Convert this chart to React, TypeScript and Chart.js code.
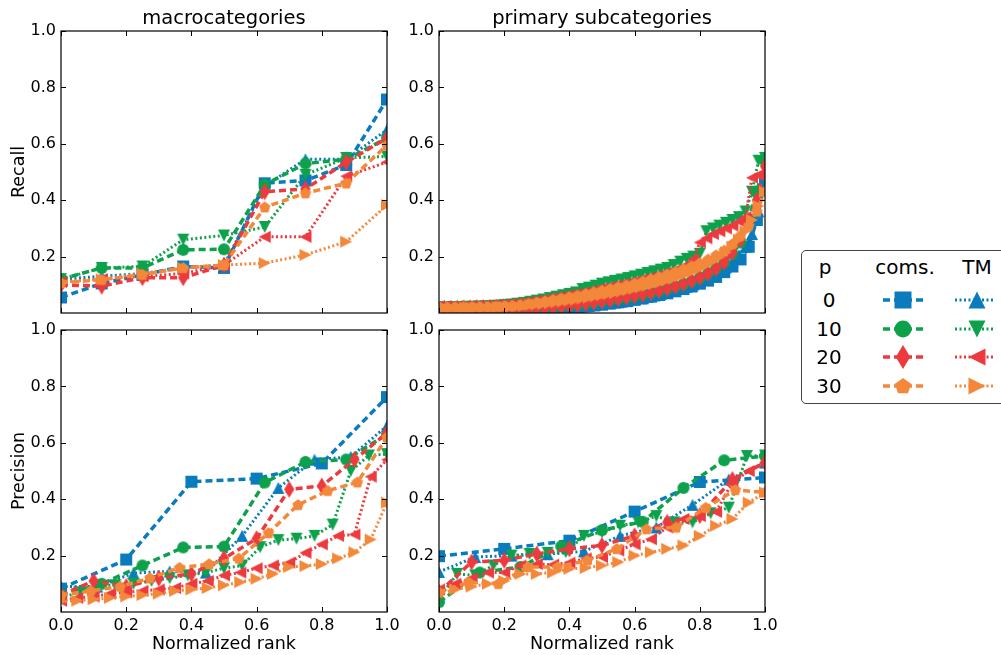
import React, { useEffect, useRef } from 'react';
import { Chart, registerables } from 'chart.js';

Chart.register(...registerables);

const FONT = '"DejaVu Sans", "Liberation Sans", sans-serif';

// ---------- labels ----------
const pLabels = ['0', '10', '20', '30'];
const methodLabels = ['coms.', 'TM'];
const panelTitles = ['macrocategories', 'primary subcategories'];
const rowTitles = ['Recall', 'Precision'];
const xAxisLabel = 'Normalized rank';
const xTickValues = [0, 0.2, 0.4, 0.6, 0.8, 1.0];
const yTickValues = [0.2, 0.4, 0.6, 0.8, 1.0];

const seriesColors = ['#0a7bbd', '#0da14b', '#ec3a3f', '#f3883a'];
const comsMarkers = ['square', 'circle', 'thinDiamond', 'pentagon'];
const tmMarkers = ['triUp', 'triDown', 'triLeft', 'triRight'];

// ---------- Recall, macrocategories ----------
const recallMacroComs0 = [0.055, 0.105, 0.135, 0.165, 0.16, 0.46, 0.47, 0.525, 0.757];
const recallMacroComs10 = [0.12, 0.16, 0.16, 0.224, 0.226, 0.455, 0.53, 0.545, 0.62];
const recallMacroComs20 = [0.10, 0.095, 0.125, 0.125, 0.17, 0.43, 0.44, 0.535, 0.62];
const recallMacroComs30 = [0.107, 0.118, 0.136, 0.16, 0.17, 0.375, 0.425, 0.46, 0.595];
const recallMacroTM0 = [0.12, 0.13, 0.14, 0.16, 0.17, 0.45, 0.545, 0.545, 0.65];
const recallMacroTM10 = [0.12, 0.16, 0.165, 0.26, 0.275, 0.305, 0.49, 0.55, 0.555];
const recallMacroTM20 = [0.11, 0.12, 0.13, 0.14, 0.17, 0.27, 0.27, 0.485, 0.535];
const recallMacroTM30 = [0.11, 0.12, 0.14, 0.16, 0.17, 0.177, 0.206, 0.253, 0.383];

// ---------- Recall, primary subcategories ----------
const recallSubComs0 = [0.000, 0.000, 0.000, 0.001, 0.002, 0.003, 0.004, 0.005, 0.006, 0.007, 0.008, 0.009, 0.010, 0.012, 0.014, 0.016, 0.018, 0.021, 0.024, 0.027, 0.030, 0.034, 0.038, 0.042, 0.047, 0.052, 0.058, 0.064, 0.070, 0.077, 0.085, 0.094, 0.104, 0.115, 0.128, 0.145, 0.165, 0.190, 0.235, 0.330, 0.470];
const recallSubComs10 = [0.005, 0.005, 0.006, 0.007, 0.008, 0.009, 0.010, 0.011, 0.012, 0.013, 0.014, 0.016, 0.018, 0.020, 0.022, 0.025, 0.028, 0.031, 0.034, 0.038, 0.042, 0.046, 0.050, 0.055, 0.060, 0.066, 0.072, 0.079, 0.086, 0.094, 0.103, 0.113, 0.125, 0.140, 0.158, 0.180, 0.210, 0.250, 0.330, 0.430, 0.540];
const recallSubComs20 = [0.004, 0.004, 0.005, 0.006, 0.007, 0.008, 0.009, 0.010, 0.011, 0.012, 0.013, 0.015, 0.017, 0.019, 0.021, 0.024, 0.027, 0.030, 0.034, 0.038, 0.042, 0.046, 0.051, 0.056, 0.061, 0.067, 0.073, 0.080, 0.087, 0.095, 0.104, 0.114, 0.126, 0.140, 0.158, 0.180, 0.215, 0.260, 0.320, 0.400, 0.520];
const recallSubComs30 = [0.020, 0.020, 0.020, 0.021, 0.021, 0.022, 0.022, 0.023, 0.024, 0.026, 0.029, 0.033, 0.038, 0.042, 0.047, 0.052, 0.057, 0.062, 0.068, 0.074, 0.080, 0.086, 0.092, 0.098, 0.105, 0.112, 0.120, 0.128, 0.137, 0.146, 0.156, 0.166, 0.177, 0.190, 0.205, 0.222, 0.245, 0.275, 0.310, 0.360, 0.430];
const recallSubTM0 = [0.000, 0.000, 0.000, 0.001, 0.001, 0.002, 0.003, 0.003, 0.004, 0.005, 0.006, 0.007, 0.008, 0.009, 0.010, 0.011, 0.012, 0.014, 0.015, 0.017, 0.019, 0.021, 0.023, 0.025, 0.028, 0.031, 0.034, 0.037, 0.040, 0.044, 0.048, 0.052, 0.057, 0.062, 0.067, 0.073, 0.079, 0.086, 0.093, 0.101, 0.110, 0.120, 0.132, 0.146, 0.162, 0.182, 0.205, 0.235, 0.280, 0.360, 0.490];
const recallSubTM10 = [0.020, 0.020, 0.021, 0.021, 0.022, 0.022, 0.023, 0.024, 0.025, 0.026, 0.028, 0.030, 0.033, 0.036, 0.040, 0.044, 0.048, 0.053, 0.058, 0.063, 0.068, 0.073, 0.085, 0.090, 0.097, 0.104, 0.109, 0.114, 0.119, 0.124, 0.130, 0.136, 0.142, 0.148, 0.154, 0.160, 0.170, 0.182, 0.192, 0.200, 0.210, 0.290, 0.300, 0.310, 0.320, 0.330, 0.340, 0.360, 0.430, 0.540, 0.550];
const recallSubTM20 = [0.025, 0.025, 0.025, 0.026, 0.026, 0.027, 0.027, 0.028, 0.029, 0.030, 0.031, 0.033, 0.035, 0.038, 0.041, 0.044, 0.048, 0.052, 0.056, 0.060, 0.064, 0.068, 0.072, 0.077, 0.082, 0.087, 0.092, 0.097, 0.102, 0.107, 0.112, 0.118, 0.124, 0.130, 0.136, 0.143, 0.150, 0.158, 0.170, 0.190, 0.250, 0.265, 0.280, 0.290, 0.300, 0.310, 0.325, 0.340, 0.480, 0.490, 0.500];
const recallSubTM30 = [0.018, 0.018, 0.018, 0.019, 0.019, 0.019, 0.020, 0.020, 0.021, 0.021, 0.022, 0.023, 0.024, 0.026, 0.028, 0.030, 0.032, 0.035, 0.038, 0.041, 0.044, 0.047, 0.051, 0.055, 0.059, 0.063, 0.067, 0.071, 0.076, 0.081, 0.086, 0.091, 0.097, 0.103, 0.109, 0.116, 0.123, 0.131, 0.139, 0.148, 0.158, 0.170, 0.183, 0.198, 0.215, 0.235, 0.260, 0.290, 0.330, 0.380, 0.430];

// ---------- Precision, macrocategories ----------
const precMacroComs0 = [0.083, 0.186, 0.462, 0.473, 0.527, 0.762];
const precMacroComs10 = [0.06, 0.10, 0.165, 0.229, 0.232, 0.459, 0.532, 0.541, 0.63];
const precMacroComs20 = [0.06, 0.11, 0.09, 0.12, 0.135, 0.19, 0.26, 0.435, 0.447, 0.54, 0.635];
const precMacroComs30 = [0.06, 0.075, 0.09, 0.12, 0.157, 0.17, 0.19, 0.28, 0.38, 0.43, 0.46, 0.62];
const precMacroTM0 = [0.09, 0.09, 0.138, 0.144, 0.14, 0.27, 0.44, 0.54, 0.55, 0.66];
const precMacroTM10 = [0.05, 0.07, 0.095, 0.095, 0.10, 0.11, 0.12, 0.13, 0.14, 0.155, 0.165, 0.23, 0.255, 0.26, 0.27, 0.31, 0.50, 0.555, 0.56];
const precMacroTM20 = [0.04, 0.05, 0.055, 0.065, 0.07, 0.075, 0.08, 0.085, 0.10, 0.11, 0.13, 0.14, 0.155, 0.165, 0.175, 0.21, 0.24, 0.27, 0.275, 0.48, 0.54];
const precMacroTM30 = [0.038, 0.04, 0.045, 0.05, 0.055, 0.06, 0.065, 0.075, 0.08, 0.085, 0.095, 0.106, 0.118, 0.135, 0.16, 0.163, 0.17, 0.19, 0.212, 0.257, 0.388];

// ---------- Precision, primary subcategories ----------
const precSubComs0 = [0.198, 0.224, 0.253, 0.356, 0.461, 0.477];
const precSubComs10 = [0.035, 0.14, 0.16, 0.233, 0.29, 0.32, 0.44, 0.538, 0.553];
const precSubComs20 = [0.07, 0.177, 0.183, 0.206, 0.224, 0.236, 0.27, 0.318, 0.342, 0.47, 0.53];
const precSubComs30 = [0.07, 0.105, 0.10, 0.16, 0.16, 0.183, 0.224, 0.294, 0.30, 0.37, 0.433, 0.424];
const precSubTM0 = [0.142, 0.195, 0.20, 0.205, 0.215, 0.27, 0.30, 0.38, 0.47, 0.53];
const precSubTM10 = [0.05, 0.135, 0.13, 0.165, 0.20, 0.206, 0.21, 0.212, 0.27, 0.283, 0.306, 0.318, 0.34, 0.318, 0.318, 0.35, 0.37, 0.553, 0.555];
const precSubTM20 = [0.08, 0.10, 0.12, 0.14, 0.14, 0.165, 0.17, 0.168, 0.175, 0.19, 0.195, 0.218, 0.24, 0.258, 0.30, 0.33, 0.34, 0.355, 0.46, 0.50, 0.53];
const precSubTM30 = [0.065, 0.08, 0.09, 0.10, 0.11, 0.135, 0.135, 0.14, 0.153, 0.156, 0.165, 0.177, 0.20, 0.212, 0.224, 0.236, 0.27, 0.306, 0.33, 0.388, 0.424];

// ---------- marker drawing ----------
function traceMarker(ctx: CanvasRenderingContext2D, shape: string, cx: number, cy: number, ms: number) {
  const h = ms / 2;
  ctx.beginPath();
  switch (shape) {
    case 'square':
      ctx.rect(cx - h, cy - h, ms, ms);
      break;
    case 'circle':
      ctx.arc(cx, cy, h, 0, Math.PI * 2);
      break;
    case 'thinDiamond': {
      const w = 0.6 * h * Math.SQRT2;
      const t = h * Math.SQRT2;
      ctx.moveTo(cx, cy - t);
      ctx.lineTo(cx + w, cy);
      ctx.lineTo(cx, cy + t);
      ctx.lineTo(cx - w, cy);
      ctx.closePath();
      break;
    }
    case 'pentagon': {
      for (let k = 0; k < 5; k++) {
        const a = (-90 + 72 * k) * Math.PI / 180;
        const px = cx + h * Math.cos(a);
        const py = cy + h * Math.sin(a) + h * 0.05;
        if (k === 0) ctx.moveTo(px, py); else ctx.lineTo(px, py);
      }
      ctx.closePath();
      break;
    }
    case 'triUp':
      ctx.moveTo(cx, cy - h); ctx.lineTo(cx + h, cy + h); ctx.lineTo(cx - h, cy + h); ctx.closePath();
      break;
    case 'triDown':
      ctx.moveTo(cx, cy + h); ctx.lineTo(cx + h, cy - h); ctx.lineTo(cx - h, cy - h); ctx.closePath();
      break;
    case 'triLeft':
      ctx.moveTo(cx - h, cy); ctx.lineTo(cx + h, cy - h); ctx.lineTo(cx + h, cy + h); ctx.closePath();
      break;
    case 'triRight':
      ctx.moveTo(cx + h, cy); ctx.lineTo(cx - h, cy - h); ctx.lineTo(cx - h, cy + h); ctx.closePath();
      break;
  }
}

function makeMarker(shape: string, color: string, ms: number): HTMLCanvasElement {
  const size = Math.ceil(ms * 1.5) + 2;
  const c = document.createElement('canvas');
  c.width = size;
  c.height = size;
  const ctx = c.getContext('2d')!;
  ctx.fillStyle = color;
  traceMarker(ctx, shape, size / 2, size / 2, ms);
  ctx.fill();
  return c;
}

// ---------- frame & inward ticks (uses chart scales) ----------
const frameTicksPlugin = {
  id: 'frameTicks',
  afterDatasetsDraw(chart: any) {
    const { ctx, chartArea: a } = chart;
    const xs = chart.scales.x;
    const ys = chart.scales.y;
    ctx.save();
    ctx.strokeStyle = '#000';
    ctx.lineWidth = 1.2;
    ctx.strokeRect(a.left, a.top, a.right - a.left, a.bottom - a.top);
    ctx.lineWidth = 1;
    const tl = 5;
    ctx.beginPath();
    xTickValues.forEach((v) => {
      const px = Math.round(xs.getPixelForValue(v)) + 0.5;
      ctx.moveTo(px, a.bottom); ctx.lineTo(px, a.bottom - tl);
      ctx.moveTo(px, a.top); ctx.lineTo(px, a.top + tl);
    });
    yTickValues.forEach((v) => {
      const py = Math.round(ys.getPixelForValue(v)) + 0.5;
      ctx.moveTo(a.left, py); ctx.lineTo(a.left + tl, py);
      ctx.moveTo(a.right, py); ctx.lineTo(a.right - tl, py);
    });
    ctx.stroke();
    ctx.restore();
  },
};

type PanelSpec = {
  left: number; top: number; w: number; h: number;
  yAxisW: number; xAxisH: number;
  padRight: number; padTop: number; padBottom: number;
  title?: string; yTitle?: string; showX: boolean;
  coms: number[][]; tm: number[][];
};

function makeDataset(values: number[], k: number, kind: 'coms' | 'tm') {
  const n = values.length;
  const color = seriesColors[k];
  return {
    label: `${kind} ${pLabels[k]}`,
    data: values.map((v, i) => ({ x: i / (n - 1), y: v })),
    showLine: true,
    borderColor: color,
    backgroundColor: color,
    borderWidth: kind === 'coms' ? 3.5 : 3,
    borderDash: kind === 'coms' ? [7, 4] : [2, 2.5],
    pointStyle: makeMarker(kind === 'coms' ? comsMarkers[k] : tmMarkers[k], color, 12),
    pointRadius: 6,
    pointHoverRadius: 6,
    clip: 0,
    tension: 0,
  };
}

function buildConfig(spec: PanelSpec): any {
  const datasets: any[] = [];
  for (let k = 0; k < 4; k++) {
    datasets.push(makeDataset(spec.coms[k], k, 'coms'));
    datasets.push(makeDataset(spec.tm[k], k, 'tm'));
  }
  datasets.reverse();
  return {
    type: 'scatter',
    data: { datasets },
    options: {
      animation: false,
      responsive: false,
      devicePixelRatio: 1,
      events: [],
      layout: {
        autoPadding: false,
        padding: { left: 0, right: spec.padRight, top: spec.padTop, bottom: spec.padBottom },
      },
      plugins: {
        legend: { display: false },
        tooltip: { enabled: false },
        title: {
          display: !!spec.title,
          text: spec.title || '',
          fullSize: false,
          color: '#000',
          font: { family: FONT, size: 19.5, weight: 'normal', lineHeight: 1.2 },
          padding: { top: 7.6, bottom: 0 },
        },
      },
      scales: {
        x: {
          type: 'linear',
          min: 0,
          max: 1,
          grid: { display: false, drawTicks: false },
          border: { display: false },
          afterBuildTicks: (s: any) => { s.ticks = xTickValues.map((v) => ({ value: v })); },
          ticks: {
            display: spec.showX,
            color: '#000',
            padding: 4,
            maxRotation: 0,
            autoSkip: false,
            font: { family: FONT, size: 16 },
            callback: (v: any) => Number(v).toFixed(1),
          },
          title: {
            display: spec.showX,
            text: xAxisLabel,
            color: '#000',
            font: { family: FONT, size: 17.5, lineHeight: 1.2 },
            padding: { top: 0, bottom: 0.5 },
          },
          afterFit: (s: any) => {
            s.height = spec.xAxisH;
            s.paddingLeft = 0;
            s.paddingRight = 0;
          },
        },
        y: {
          type: 'linear',
          min: 0,
          max: 1,
          grid: { display: false, drawTicks: false },
          border: { display: false },
          afterBuildTicks: (s: any) => { s.ticks = yTickValues.map((v) => ({ value: v })); },
          ticks: {
            color: '#000',
            padding: 5,
            autoSkip: false,
            font: { family: FONT, size: 16 },
            callback: (v: any) => Number(v).toFixed(1),
          },
          title: {
            display: !!spec.yTitle,
            text: spec.yTitle || '',
            color: '#000',
            font: { family: FONT, size: 17.5, lineHeight: 1.2 },
            padding: { top: 9, bottom: 0 },
          },
          afterFit: (s: any) => {
            s.width = spec.yAxisW;
            s.paddingTop = 0;
            s.paddingBottom = 0;
          },
        },
      },
    },
    plugins: [frameTicksPlugin],
  };
}

function Panel({ spec }: { spec: PanelSpec }) {
  const ref = useRef<HTMLCanvasElement>(null);
  useEffect(() => {
    const chart = new Chart(ref.current as HTMLCanvasElement, buildConfig(spec));
    return () => chart.destroy();
  }, []);
  return (
    <canvas
      ref={ref}
      width={spec.w}
      height={spec.h}
      style={{ position: 'absolute', left: spec.left, top: spec.top, width: spec.w, height: spec.h }}
    />
  );
}

function LegendGlyph({ color, shape, dash, lineW, left, top, markerX }: any) {
  const ref = useRef<HTMLCanvasElement>(null);
  useEffect(() => {
    const c = ref.current as HTMLCanvasElement;
    const ctx = c.getContext('2d')!;
    ctx.clearRect(0, 0, c.width, c.height);
    ctx.strokeStyle = color;
    ctx.lineWidth = lineW;
    ctx.setLineDash(dash);
    ctx.beginPath();
    ctx.moveTo(3, 15);
    ctx.lineTo(43, 15);
    ctx.stroke();
    ctx.setLineDash([]);
    ctx.fillStyle = color;
    traceMarker(ctx, shape, markerX, 15, 17);
    ctx.fill();
  }, []);
  return <canvas ref={ref} width={48} height={30} style={{ position: 'absolute', left, top, width: 48, height: 30 }} />;
}

function Legend() {
  const rowY = [300, 329, 357, 386];
  const txt = (s: string, cx: number, cy: number, w: number) => (
    <div
      key={s + cx + cy}
      style={{
        position: 'absolute', left: cx - w / 2, top: cy - 13, width: w, height: 26,
        lineHeight: '26px', textAlign: 'center', fontFamily: FONT, fontSize: 20, color: '#000',
        whiteSpace: 'nowrap',
      }}
    >{s}</div>
  );
  return (
    <>
      <div
        style={{
          position: 'absolute', left: 801, top: 250, width: 230, height: 154,
          border: '1.5px solid #444', borderRadius: 5, boxSizing: 'border-box', background: '#fff',
        }}
      />
      {txt('p', 825, 267, 40)}
      {txt(methodLabels[0], 905, 267, 90)}
      {txt(methodLabels[1], 977, 267, 60)}
      {pLabels.map((p, k) => (
        <React.Fragment key={p}>
          {txt(p, 829, rowY[k], 40)}
          <LegendGlyph color={seriesColors[k]} shape={comsMarkers[k]} dash={[7, 4]} lineW={3.5} left={880} top={rowY[k] - 15} markerX={23} />
          <LegendGlyph color={seriesColors[k]} shape={tmMarkers[k]} dash={[2, 2.5]} lineW={3} left={952} top={rowY[k] - 15} markerX={25} />
        </React.Fragment>
      ))}
    </>
  );
}

const panels: PanelSpec[] = [
  {
    left: 0, top: 0, w: 404, h: 318, yAxisW: 61, xAxisH: 0, padRight: 17, padTop: 0, padBottom: 5,
    title: panelTitles[0], yTitle: rowTitles[0], showX: false,
    coms: [recallMacroComs0, recallMacroComs10, recallMacroComs20, recallMacroComs30],
    tm: [recallMacroTM0, recallMacroTM10, recallMacroTM20, recallMacroTM30],
  },
  {
    left: 404, top: 0, w: 376, h: 318, yAxisW: 35, xAxisH: 0, padRight: 15, padTop: 0, padBottom: 5,
    title: panelTitles[1], showX: false,
    coms: [recallSubComs0, recallSubComs10, recallSubComs20, recallSubComs30],
    tm: [recallSubTM0, recallSubTM10, recallSubTM20, recallSubTM30],
  },
  {
    left: 0, top: 318, w: 404, h: 337, yAxisW: 61, xAxisH: 43, padRight: 17, padTop: 12, padBottom: 0,
    yTitle: rowTitles[1], showX: true,
    coms: [precMacroComs0, precMacroComs10, precMacroComs20, precMacroComs30],
    tm: [precMacroTM0, precMacroTM10, precMacroTM20, precMacroTM30],
  },
  {
    left: 404, top: 318, w: 376, h: 337, yAxisW: 35, xAxisH: 43, padRight: 15, padTop: 12, padBottom: 0,
    showX: true,
    coms: [precSubComs0, precSubComs10, precSubComs20, precSubComs30],
    tm: [precSubTM0, precSubTM10, precSubTM20, precSubTM30],
  },
];

export default function App() {
  return (
    <div
      style={{
        position: 'fixed', left: 0, top: 0, width: 1001, height: 655,
        background: '#fff', overflow: 'hidden',
      }}
    >
      {panels.map((p, i) => <Panel key={i} spec={p} />)}
      <Legend />
    </div>
  );
}
